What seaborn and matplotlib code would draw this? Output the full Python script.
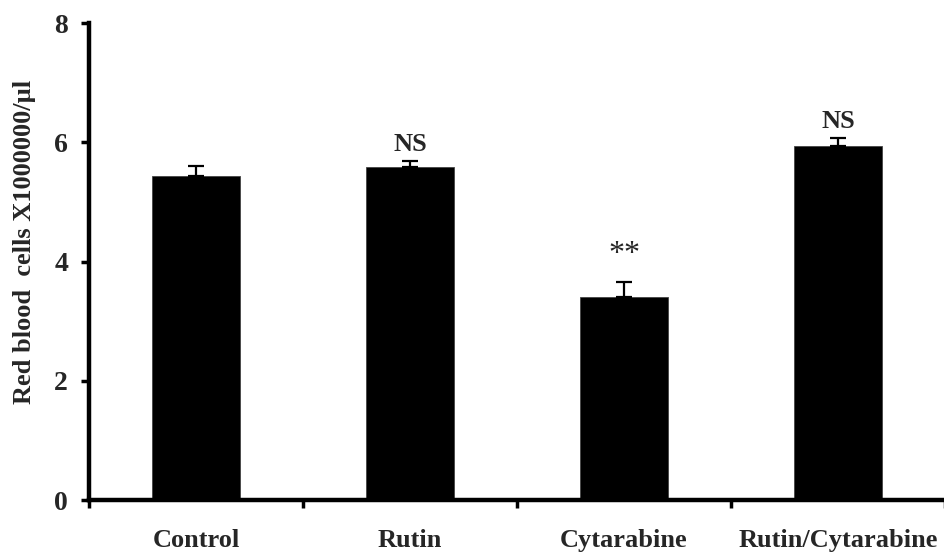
import numpy as np
import pandas as pd
import matplotlib
matplotlib.use("Agg")
import matplotlib.pyplot as plt
import seaborn as sns

# values
groups = ["Control", "Rutin", "Cytarabine", "Rutin/Cytarabine"]
rbc_mean = [5.44, 5.58, 3.41, 5.94]
rbc_sem = [0.17, 0.10, 0.24, 0.13]
marks = ["", "NS", "**", "NS"]

df = pd.DataFrame({"group": groups, "rbc": rbc_mean})

sns.set_style("ticks")
plt.rcParams["font.family"] = ["Liberation Serif", "DejaVu Serif"]
plt.rcParams["font.weight"] = "bold"

fig = plt.figure(figsize=(9.45, 5.56), dpi=100)
ax = fig.add_axes([0.0942, 0.1007, 0.9058, 0.8579])

sns.barplot(data=df, x="group", y="rbc", color="black", width=0.415,
            saturation=1, edgecolor="#444444", linewidth=0.6, ax=ax)

# one sided error bars (upper only)
xs = np.arange(len(groups))
ax.errorbar(xs, rbc_mean, yerr=[np.zeros(len(groups)), rbc_sem], fmt="none",
            ecolor="black", elinewidth=1.6, capsize=6, capthick=1.6, zorder=3)

# significance marks over the bars
for x, y, e, m in zip(xs, rbc_mean, rbc_sem, marks):
    if m == "NS":
        ax.text(x, y + e + 0.09, m, ha="center", va="bottom", fontsize=19,
                fontweight="bold")
    elif m:
        ax.text(x, y + e + 0.22, m, ha="center", va="bottom", fontsize=23,
                fontweight="normal")

ax.set_xlim(-0.5, 3.463)
ax.set_ylim(0, 8)
ax.set_yticks([0, 2, 4, 6, 8])
ax.set_yticklabels(["0", "2", "4", "6", "8"], fontsize=20, fontweight="bold")

# tick marks between groups, labels under the bars
ax.set_xticks([-0.5, 0.5, 1.5, 2.5, 3.5])
ax.set_xticklabels([])
ax.set_xticks(xs, minor=True)
ax.set_xticklabels(groups, minor=True, fontsize=19, fontweight="bold")
ax.tick_params(axis="x", which="minor", length=0, pad=21)
ax.tick_params(axis="both", which="major", length=6, width=2.5, color="black")
ax.tick_params(axis="y", pad=9)

ax.set_xlabel("")
ax.set_ylabel("Red blood  cells X1000000/\u00b5l", fontsize=19,
              fontweight="bold")
ax.yaxis.set_label_coords(-0.062, 0.541)

sns.despine(ax=ax)
for side in ["left", "bottom"]:
    ax.spines[side].set_linewidth(3.2)
    ax.spines[side].set_color("black")

fig.savefig("out.png", dpi=100)
